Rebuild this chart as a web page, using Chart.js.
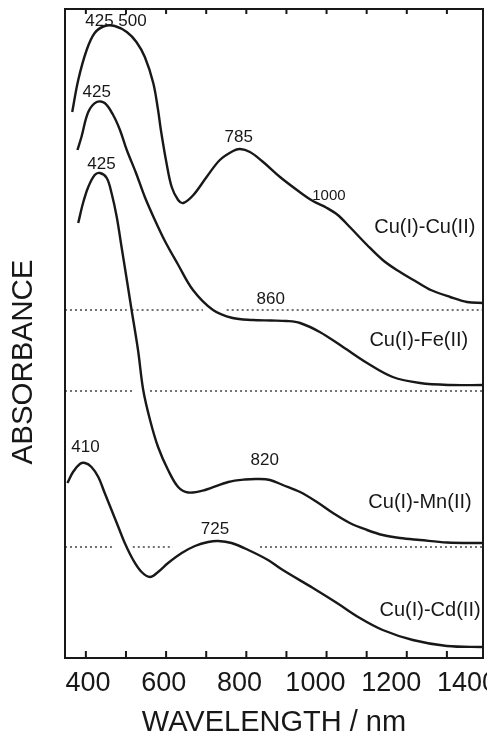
<!DOCTYPE html>
<html>
<head>
<meta charset="utf-8">
<script src="https://cdn.jsdelivr.net/npm/chart.js@4"></script>
<style>
    html, body { margin: 0; padding: 0; background: #fff; overflow: hidden; }
    #wrap { width: 487px; height: 739px; }
</style>
</head>
<body>
<div id="wrap"><canvas id="graf"></canvas></div>
<script>
// vlnova delka (nm) a absorbance
const cuCuNm = [366, 381, 402, 422, 447, 472, 502, 526, 547, 568, 580, 587, 601, 614, 630, 643, 668, 701, 734, 767,
    784, 809, 842, 884, 933, 966, 1001, 1028, 1058, 1101, 1140, 1175, 1225, 1260, 1308, 1350, 1390];
const cuCuAbs = [5.46, 5.78, 6.08, 6.25, 6.32, 6.32, 6.26, 6.16, 6.01, 5.75, 5.48, 5.28, 4.95, 4.71, 4.58, 4.55, 4.63, 4.81, 4.98, 5.07,
    5.09, 5.06, 4.96, 4.81, 4.66, 4.57, 4.50, 4.43, 4.31, 4.13, 3.98, 3.88, 3.76, 3.68, 3.61, 3.56, 3.55];

const cuFeNm = [379, 389, 406, 427, 447, 468, 485, 502, 525, 547, 572, 597, 629, 667, 717, 766, 816, 861, 901, 934,
    983, 1041, 1101, 1165, 1233, 1307, 1390];
const cuFeAbs = [5.08, 5.21, 5.46, 5.56, 5.55, 5.43, 5.28, 5.08, 4.85, 4.61, 4.38, 4.17, 3.94, 3.68, 3.48, 3.40, 3.38, 3.375, 3.37, 3.35,
    3.26, 3.11, 2.95, 2.81, 2.75, 2.73, 2.73];

const cuMnNm = [381, 393, 406, 422, 435, 452, 464, 477, 489, 501, 514, 530, 543, 560, 580, 605, 630, 655, 697, 755,
    796, 830, 859, 891, 934, 976, 1016, 1058, 1101, 1140, 1183, 1233, 1300, 1390];
const cuMnAbs = [4.35, 4.55, 4.71, 4.83, 4.85, 4.80, 4.65, 4.41, 4.11, 3.81, 3.48, 3.08, 2.68, 2.38, 2.11, 1.88, 1.71, 1.655, 1.68, 1.76,
    1.785, 1.79, 1.78, 1.73, 1.66, 1.56, 1.45, 1.35, 1.28, 1.23, 1.20, 1.18, 1.155, 1.15];

const cuCdNm = [354, 368, 385, 398, 414, 431, 447, 464, 481, 497, 518, 539, 560, 580, 605, 639, 672, 705, 730, 763,
    805, 854, 891, 966, 1026, 1083, 1140, 1215, 1300, 1390];
const cuCdAbs = [1.75, 1.86, 1.94, 1.95, 1.91, 1.81, 1.65, 1.48, 1.31, 1.15, 0.98, 0.86, 0.81, 0.86, 0.95, 1.05, 1.12, 1.16, 1.17, 1.15,
    1.08, 0.98, 0.88, 0.70, 0.55, 0.40, 0.28, 0.18, 0.12, 0.11];

// teckovane zakladni cary (hladina + useky mezi mezerami)
const baseLevels = [3.48, 2.67, 1.11];
const baseSegments = [
    [[348, 502], [514, 692], [751, 1390]],
    [[348, 522], [560, 1390]],
    [[348, 465], [517, 617], [834, 1390]]
];

// popisky maxim
const peakText = ["425 500", "425", "425", "785", "1000", "860", "820", "410", "725"];
const peakNm = [475, 427, 439, 781, 1006, 861, 846, 399, 722];
const peakAbs = [6.37, 5.66, 4.94, 5.205, 4.62, 3.59, 1.98, 2.105, 1.29];

const seriesNames = ["Cu(I)-Cu(II)", "Cu(I)-Fe(II)", "Cu(I)-Mn(II)", "Cu(I)-Cd(II)"];
const nameNm = [1245, 1230, 1233, 1258];
const nameAbs = [4.31, 3.18, 1.56, 0.48];

const wavelengthTicks = [400, 600, 800, 1000, 1200, 1400];
const minorTicks = [400, 500, 600, 700, 800, 900, 1000, 1100, 1200, 1300];

const ink = "#181818";
const fontFam = "'Liberation Sans', Arial, Helvetica, sans-serif";

const xy = (xs, ys) => xs.map((x, i) => ({ x, y: ys[i] }));
const dotted = (segs, level) => {
    const out = [];
    segs.forEach((s, i) => {
        if (i) out.push({ x: (segs[i - 1][1] + s[0]) / 2, y: null });
        out.push({ x: s[0], y: level }, { x: s[1], y: level });
    });
    return out;
};

const curve = (label, data) => ({
    label, data,
    borderColor: ink, borderWidth: 2.4,
    tension: 0.35,
    pointRadius: 0, fill: false, order: 1
});
const baseline = (i) => ({
    label: "base" + i, data: dotted(baseSegments[i], baseLevels[i]),
    borderColor: "#444", borderWidth: 1.5, borderDash: [2, 3],
    pointRadius: 0, fill: false, spanGaps: false, order: 2
});

const ramecek = {
    id: "ramecek",
    afterDatasetsDraw(chart) {
        const { ctx, chartArea: a, scales: { x, y } } = chart;
        ctx.save();
        ctx.strokeStyle = ink;
        ctx.lineWidth = 2;
        ctx.strokeRect(a.left, a.top, a.right - a.left, a.bottom - a.top);
        ctx.beginPath();
        minorTicks.forEach(v => {
            const px = x.getPixelForValue(v);
            ctx.moveTo(px, a.bottom); ctx.lineTo(px, a.bottom - 7);
            ctx.moveTo(px, a.top); ctx.lineTo(px, a.top + 5);
        });
        ctx.stroke();

        ctx.fillStyle = ink;
        ctx.textAlign = "center";
        ctx.textBaseline = "middle";
        peakText.forEach((t, i) => {
            ctx.font = (t === "1000" ? 15 : 17) + "px " + fontFam;
            ctx.fillText(t, x.getPixelForValue(peakNm[i]), y.getPixelForValue(peakAbs[i]));
        });
        ctx.font = "20px " + fontFam;
        seriesNames.forEach((t, i) => {
            ctx.fillText(t, x.getPixelForValue(nameNm[i]), y.getPixelForValue(nameAbs[i]));
        });

        // svisly popisek osy
        ctx.translate(a.left - 41, y.getPixelForValue(2.96));
        ctx.rotate(-Math.PI / 2);
        ctx.font = "29.5px " + fontFam;
        ctx.fillText("ABSORBANCE", 0, 0);
        ctx.restore();
    }
};

new Chart(document.getElementById("graf"), {
    type: "line",
    data: {
        datasets: [
            curve(seriesNames[0], xy(cuCuNm, cuCuAbs)),
            curve(seriesNames[1], xy(cuFeNm, cuFeAbs)),
            curve(seriesNames[2], xy(cuMnNm, cuMnAbs)),
            curve(seriesNames[3], xy(cuCdNm, cuCdAbs)),
            baseline(0), baseline(1), baseline(2)
        ]
    },
    options: {
        responsive: true,
        maintainAspectRatio: false,
        animation: false,
        devicePixelRatio: 1,
        layout: { padding: { left: 65, top: 9, right: 4, bottom: 0 } },
        plugins: { legend: { display: false }, tooltip: { enabled: false } },
        scales: {
            x: { type: "linear", min: 348, max: 1390, display: false },
            xl: {
                type: "linear", position: "bottom", min: 339.3, max: 1442.2,
                afterBuildTicks: s => { s.ticks = wavelengthTicks.map(v => ({ value: v })); },
                afterFit: s => { s.paddingLeft = 0; s.paddingRight = 0; s.height = 81; },
                grid: { display: false, drawTicks: false },
                border: { display: false },
                ticks: {
                    padding: 9, autoSkip: false, maxRotation: 0,
                    color: ink, font: { family: fontFam, size: 27 },
                    callback: v => String(v)
                },
                title: {
                    display: true, text: "WAVELENGTH / nm", color: ink,
                    font: { family: fontFam, size: 29, lineHeight: 1.1 },
                    padding: { top: 0, bottom: 0 }
                }
            },
            y: { min: 0, max: 6.49, display: false }
        }
    },
    plugins: [ramecek]
});
</script>
</body>
</html>
